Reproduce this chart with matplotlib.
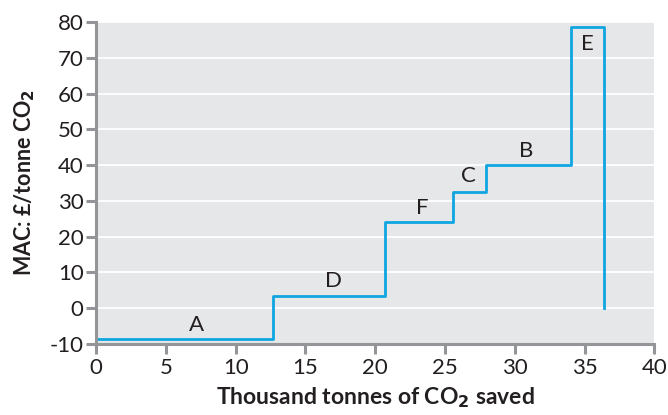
import matplotlib
matplotlib.use("Agg")
import matplotlib.pyplot as plt

# step edges (thousand tonnes CO2 saved) and marginal abatement cost per option
edges = [0, 12.7, 20.7, 25.6, 27.9, 34.0, 36.4]
mac = [-8.5, 3.5, 24, 32.5, 40, 78.5]
options = ["A", "D", "F", "C", "B", "E"]
label_x = [7.2, 17.0, 23.4, 26.7, 30.8, 35.2]
label_y = [-4.7, 7.7, 28.0, 36.9, 43.9, 73.8]

grey = "#939598"
blue = "#0ea5e0"

plt.rcParams['font.family'] = ['Lato', 'DejaVu Sans']
plt.rcParams['axes.unicode_minus'] = False

dpi = 100
fig = plt.figure(figsize=(668 / dpi, 415 / dpi), dpi=dpi)
ax = fig.add_axes([0.1437, 0.171, 0.836, 0.776])

ax.set_facecolor("#e6e7e8")
ax.set_xlim(0, 40)
ax.set_ylim(-10, 80)
ax.set_xticks(range(0, 41, 5))
ax.set_yticks(range(-10, 81, 10))
ax.grid(axis="y", color="white", linewidth=1.3)
ax.set_axisbelow(True)

for side in ["top", "right"]:
    ax.spines[side].set_visible(False)
for side in ["left", "bottom"]:
    ax.spines[side].set_color(grey)
    ax.spines[side].set_linewidth(2.2)
ax.tick_params(colors=grey, width=2.2, length=7, labelsize=16, labelcolor="#231f20")
ax.tick_params(axis="y", pad=2)
ax.tick_params(axis="x", pad=3)

# cost curve: steps then a final drop to zero
xs = edges + [edges[-1]]
ys = mac + [mac[-1], 0]
ax.step(xs, ys, where="post", color=blue, linewidth=2, clip_on=False)

for name, x, y in zip(options, label_x, label_y):
    ax.text(x, y, name, ha="center", va="center", fontsize=16, color="#231f20")

ax.set_xlabel("Thousand tonnes of CO$_\\mathbf{2}$ saved", fontsize=16.5, fontweight="bold",
              color="#231f20", labelpad=5)
ax.set_ylabel("MAC: £/tonne CO$_\\mathbf{2}$", fontsize=15.5, fontweight="bold",
              color="#231f20", labelpad=9)

fig.savefig("out.png", dpi=dpi)
